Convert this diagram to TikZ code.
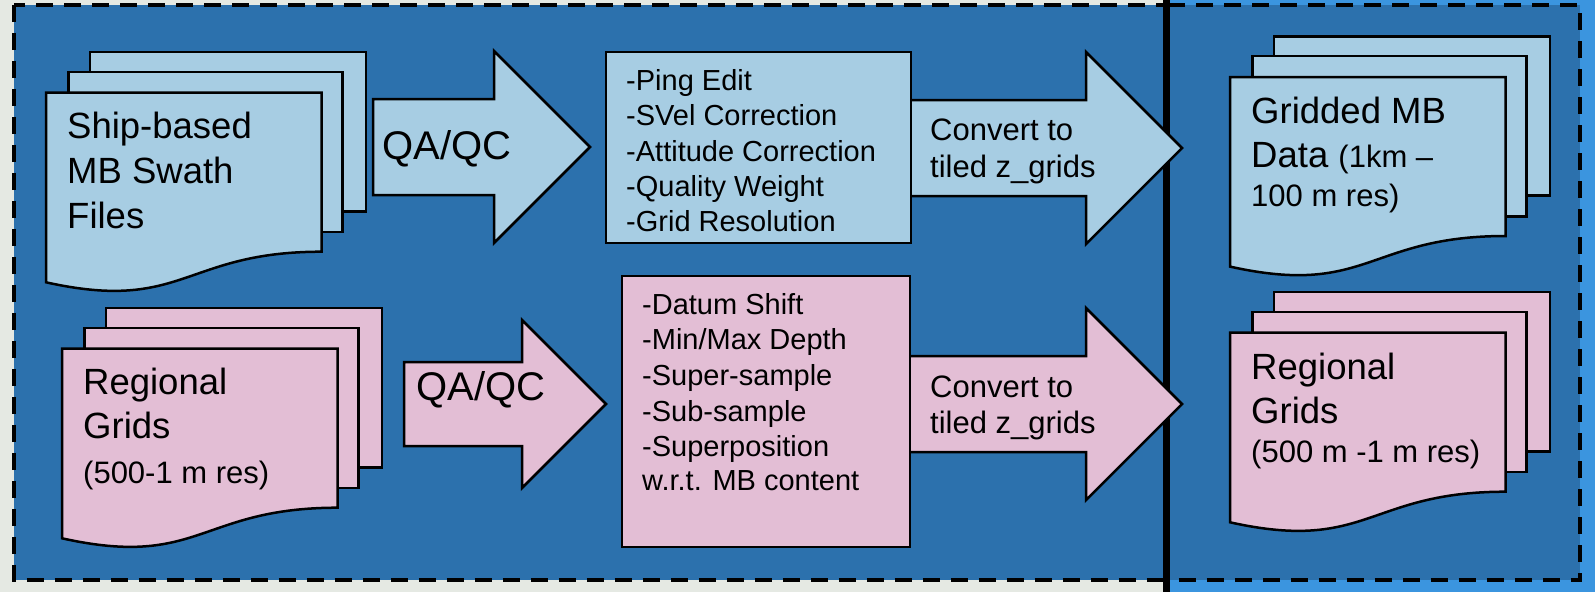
\documentclass[tikz,border=0pt]{standalone}
\usepackage{fontspec}
\setmainfont{Liberation Sans}
\definecolor{darkbg}{HTML}{2C71AD}
\definecolor{outblue}{HTML}{3B95DF}
\definecolor{mapbg}{HTML}{E5E9E3}
\definecolor{docblue}{HTML}{A7CDE3}
\definecolor{docpink}{HTML}{E3BED5}
\tikzset{
  shapeline/.style={draw=black, line width=2.5pt, line join=miter},
  dashbox/.style={draw=black, line width=4pt, dash pattern=on 17pt off 11pt},
  bigtxt/.style={anchor=base west, inner sep=0pt, font=\fontsize{36.5}{44}\selectfont},
  smalltxt/.style={anchor=base west, inner sep=0pt, font=\fontsize{31}{38}\selectfont},
  listtxt/.style={anchor=base west, inner sep=0pt, font=\fontsize{29}{35}\selectfont},
  convtxt/.style={anchor=base west, inner sep=0pt, font=\fontsize{31}{37}\selectfont},
  qatxt/.style={anchor=base west, inner sep=0pt, font=\fontsize{40}{44}\selectfont},
  listbox/.style={shapeline, rectangle, inner sep=0pt},
}
\newcommand\mdoc[3]{%
  \begin{scope}[shift={(#1,#2)}]
    \draw[shapeline,fill=#3] (44,0) rectangle (320,159.4);
    \draw[shapeline,fill=#3] (22.7,19.9) rectangle (296.3,180);
    \draw[shapeline,fill=#3] (0,40.7) -- (275.5,40.7) -- (275.5,199.7)
      .. controls (137.7,199.7) and (137.7,260.9) .. (0,230.3) -- cycle;
  \end{scope}}
\newcommand\blockarrow[8]{% x0, bodytop, bodybot, headtop, headbot, base, tip, fill
  \draw[shapeline,fill=#8] (#1,#2) -- (#6,#2) -- (#6,#4) -- (#7) -- (#6,#5) -- (#6,#3) -- (#1,#3) -- cycle;}
\begin{document}
\begin{tikzpicture}[x=1pt,y=-1pt]
\useasboundingbox (0,0) rectangle (1595,592);
% backgrounds
\fill[mapbg] (0,0) rectangle (1595,592);
\fill[outblue] (1166,0) rectangle (1595,592);
\fill[darkbg] (14,4.5) rectangle (1580,580);
\draw[dashbox] (14,4.5) rectangle (1166,580);
\draw[dashbox] (1166,4.5) rectangle (1580,580);
\coordinate (divtop) at (1166,0);
\coordinate (divbot) at (1166,592);
\draw[line width=7pt] (divtop) -- (divbot);

% document stacks
\mdoc{46}{52}{docblue}
\mdoc{62}{308}{docpink}
\mdoc{1230}{36.3}{docblue}
\mdoc{1230}{292}{docpink}

% block arrows
\coordinate (qa1tip) at (590,147);
\coordinate (qa2tip) at (606,404);
\coordinate (cv1tip) at (1182,148);
\coordinate (cv2tip) at (1182,404);
\blockarrow{373}{99}{195}{51}{243}{494}{qa1tip}{docblue}
\blockarrow{404}{362}{446}{320}{488}{522}{qa2tip}{docpink}
\blockarrow{900}{100}{196}{52}{244}{1086}{cv1tip}{docblue}
\blockarrow{900}{356}{452}{308}{500}{1086}{cv2tip}{docpink}

% process boxes
\node[listbox, fill=docblue, minimum width=305pt, minimum height=191pt] (editbox) at (758.5,147.5) {};
\node[listbox, fill=docpink, minimum width=288pt, minimum height=271pt] (regbox) at (766,411.5) {};

% texts: ship-based
\node[bigtxt] (s1) at (67,138) {Ship-based};
\node[bigtxt] (s2) at (67,183) {MB Swath};
\node[bigtxt] (s3) at (67,228) {Files};
% left regional
\node[bigtxt] (r1) at (83,394) {Regional};
\node[bigtxt] (r2) at (83,438) {Grids};
\node[smalltxt] (r3) at (83,483) {(500-1 m res)};
% QA/QC
\node[qatxt] (qa1) at (382,159) {QA/QC};
\node[qatxt] (qa2) at (416,400) {QA/QC};
% list top
\node[listtxt] (l1) at (626,90) {-Ping Edit};
\node[listtxt] (l2) at (626,125.5) {-SVel Correction};
\node[listtxt] (l3) at (626,161) {-Attitude Correction};
\node[listtxt] (l4) at (626,196) {-Quality Weight};
\node[listtxt] (l5) at (626,231) {-Grid Resolution};
% list pink
\node[listtxt] (p1) at (642,314) {-Datum Shift};
\node[listtxt] (p2) at (642,349) {-Min/Max Depth};
\node[listtxt] (p3) at (642,385) {-Super-sample};
\node[listtxt] (p4) at (642,421) {-Sub-sample};
\node[listtxt] (p5) at (642,456) {-Superposition};
\node[listtxt] (p6) at (642,490) {w.r.t. MB content};
% convert
\node[convtxt] (c1) at (930,140) {Convert to};
\node[convtxt] (c2) at (930,177) {tiled z\_grids};
\node[convtxt] (c3) at (930,397) {Convert to};
\node[convtxt] (c4) at (930,433) {tiled z\_grids};
% gridded MB
\node[bigtxt] (g1) at (1251,123) {Gridded MB};
\node[bigtxt] (g2) at (1251,167) {Data {\fontsize{31}{38}\selectfont(1km –}};
\node[smalltxt] (g3) at (1251,206) {100 m res)};
% right regional
\node[bigtxt] (rr1) at (1251,379) {Regional};
\node[bigtxt] (rr2) at (1251,423) {Grids};
\node[smalltxt] (rr3) at (1251,462) {(500 m -1 m res)};
\end{tikzpicture}
\end{document}
